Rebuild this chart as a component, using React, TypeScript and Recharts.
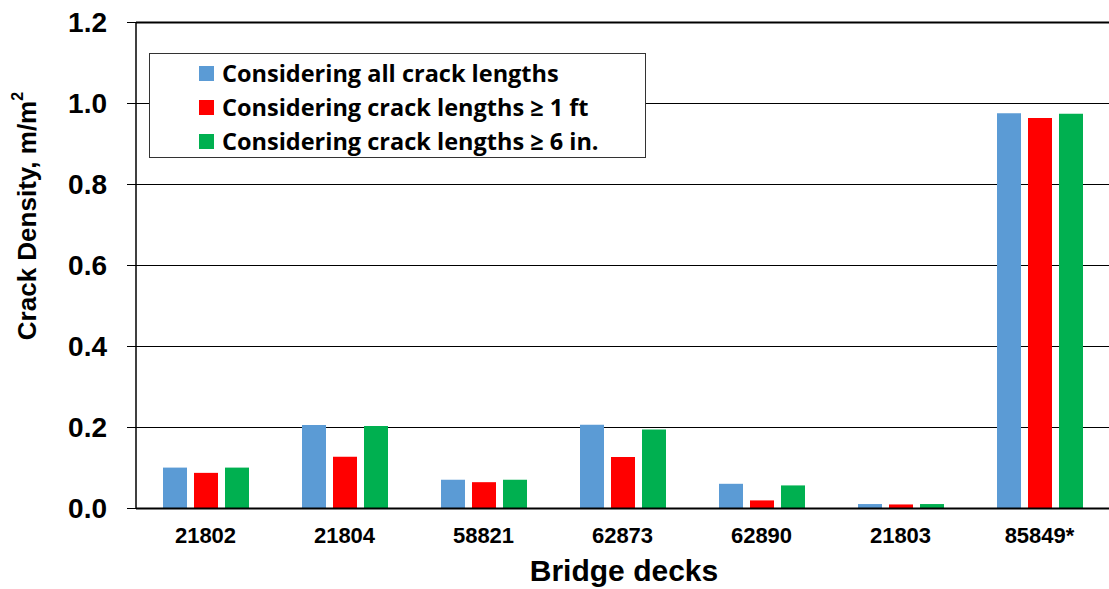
import React from 'react';
import { BarChart, Bar, XAxis, YAxis, CartesianGrid, ReferenceLine } from 'recharts';

// bridge decks on the x axis
const decks = ['21802', '21804', '58821', '62873', '62890', '21803', '85849*'];

// crack density, m/m2
const allLengths = [0.101, 0.206, 0.071, 0.207, 0.061, 0.011, 0.976];
const over1ft = [0.088, 0.128, 0.065, 0.127, 0.020, 0.010, 0.964];
const over6in = [0.101, 0.204, 0.071, 0.195, 0.057, 0.011, 0.975];

const seriesNames = [
  'Considering all crack lengths',
  'Considering crack lengths \u2265 1 ft',
  'Considering crack lengths \u2265 6 in.',
];
const seriesColors = ['#5B9BD5', '#FF0000', '#00B050'];

const yTicks = [0, 0.2, 0.4, 0.6, 0.8, 1.0, 1.2];

const data = decks.map((d, i) => ({
  deck: d,
  all: allLengths[i],
  ft1: over1ft[i],
  in6: over6in[i],
}));
const keys = ['all', 'ft1', 'in6'];

const arial = '"Liberation Sans", Arial, sans-serif';

// legend sits over the plot, so it's drawn outside recharts' layout
function LegendBox() {
  return (
    <div
      style={{
        position: 'absolute',
        left: 149,
        top: 53,
        width: 495,
        height: 101,
        border: '1.5px solid #333',
        background: '#fff',
        paddingTop: 2,
      }}
    >
      {seriesNames.map((name, i) => (
        <div key={name} style={{ display: 'flex', alignItems: 'center', height: 34, paddingLeft: 49 }}>
          <span style={{ width: 15, height: 15, background: seriesColors[i], marginRight: 8, flex: 'none' }} />
          <span style={{ fontFamily: '"Open Sans", sans-serif', fontWeight: 700, fontSize: 23.5, color: '#000', whiteSpace: 'nowrap' }}>
            {name}
          </span>
        </div>
      ))}
    </div>
  );
}

export default function App() {
  return (
    <div style={{ position: 'absolute', left: 0, top: 0, width: 1109, height: 589, background: '#fff' }}>
      <BarChart
        width={1109}
        height={589}
        data={data}
        margin={{ top: 22.5, right: 0, bottom: 0, left: 0 }}
        barSize={24}
        barGap={7}
      >
        <CartesianGrid vertical={false} stroke="#000" strokeWidth={1} />
        <XAxis
          dataKey="deck"
          height={80.5}
          tickLine={false}
          tickSize={0}
          tickMargin={19}
          axisLine={{ stroke: '#000', strokeWidth: 2 }}
          tick={{ fill: '#000', fontFamily: arial, fontWeight: 700, fontSize: 22 }}
          label={{
            content: () => (
              <text x={624} y={581} textAnchor="middle" fontFamily={arial} fontWeight={700} fontSize={30} fill="#000">
                Bridge decks
              </text>
            ),
          }}
        />
        <YAxis
          width={136}
          domain={[0, 1.2]}
          ticks={yTicks}
          interval={0}
          tickFormatter={(v: number) => v.toFixed(1)}
          tickSize={9}
          tickMargin={20}
          axisLine={{ stroke: '#000', strokeWidth: 1.5 }}
          tickLine={{ stroke: '#000' }}
          tick={{ fill: '#000', fontFamily: arial, fontWeight: 700, fontSize: 28 }}
          label={{
            content: () => (
              <text
                x={27}
                y={216}
                transform="rotate(-90 27 216)"
                textAnchor="middle"
                dominantBaseline="central"
                fontFamily={arial}
                fontWeight={700}
                fontSize={26}
                fill="#000"
              >
                Crack Density, m/m
                <tspan fontSize={16} dy={-10}>2</tspan>
              </text>
            ),
          }}
        />
        <ReferenceLine y={1.2} stroke="#000" strokeWidth={2} />
        {keys.map((k, i) => (
          <Bar key={k} dataKey={k} name={seriesNames[i]} fill={seriesColors[i]} isAnimationActive={false} />
        ))}
      </BarChart>
      <LegendBox />
    </div>
  );
}
